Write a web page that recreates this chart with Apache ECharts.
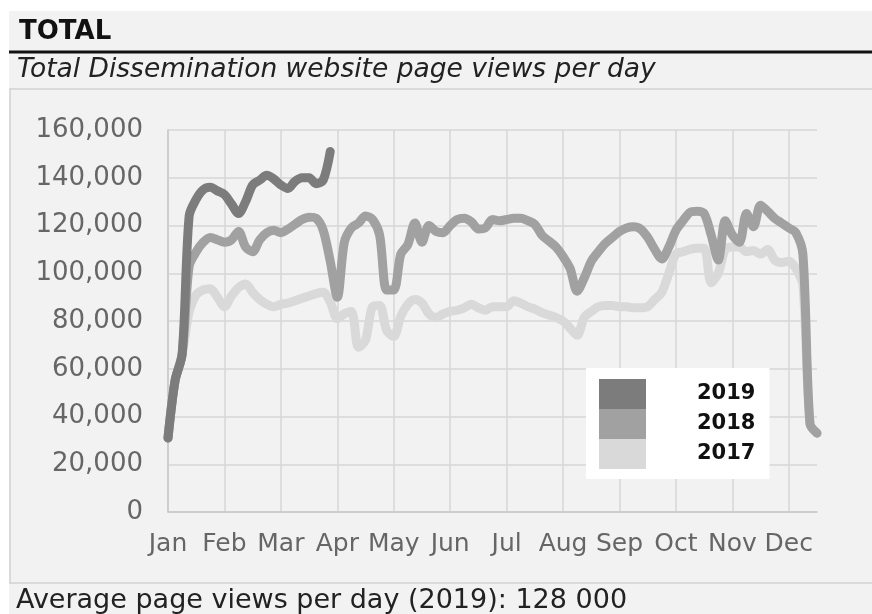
<!DOCTYPE html>
<html>
<head>
<meta charset="utf-8">
<script src="https://cdn.jsdelivr.net/npm/echarts@6/dist/echarts.min.js"></script>
<style>
html,body{margin:0;padding:0;background:#ffffff;}
#chart{width:872px;height:614px;}
</style>
</head>
<body>
<div id="chart"></div>
<script>
// ---- data (8 samples per month, starting 1 Jan) ----
const months = ['Jan','Feb','Mar','Apr','May','Jun','Jul','Aug','Sep','Oct','Nov','Dec'];
const samplesPerMonth = 8;
const yTicks = [0, 20000, 40000, 60000, 80000, 100000, 120000, 140000, 160000];

const views2019 = [31000,55000,66000,124000,131000,135000,136000,134500,133000,129000,
  125000,130000,137000,139000,141000,139500,137000,135500,138500,140000,
  140000,137500,139000,151000];

const views2018 = [31000,55000,66000,103000,109000,113000,115000,114000,113000,114000,
  117500,111000,109000,114000,117000,118000,117000,118500,120500,122500,
  123500,123000,118000,105000,90000,113000,119000,121000,124000,122500,
  116000,93000,93000,108000,112000,121000,113000,120000,117500,117000,
  120000,122500,123000,121500,118500,119000,122500,122000,122500,123000,
  123000,122000,120500,116000,113500,111000,107000,102000,92500,98000,
  105000,109000,112500,115000,117500,119000,119500,118500,115000,110000,
  106000,111000,118000,122000,125500,126000,125000,116000,105500,122000,
  116000,113000,125000,119500,128500,126000,123000,121000,119000,117000,
  108000,37000,33000];

const views2017 = [31000,55000,66000,84000,91000,93000,93500,90000,86000,90500,
  94000,95500,92000,89000,87000,86000,87000,87500,88500,89500,
  90500,91500,92000,88000,81000,83000,84000,69000,72000,86000,
  86500,76000,73500,82000,87000,89000,87500,83000,81500,83000,
  84000,84500,85500,87000,85500,84500,86000,86000,86000,88500,
  87500,86000,85000,83500,82500,81500,80000,77000,74000,81500,
  84000,86000,86500,86500,86000,86000,85500,85500,86000,89000,
  92000,100000,108000,109000,110000,110500,110500,96000,100000,110000,
  111000,111000,109000,109500,108000,110000,105500,104500,105000,102000,
  95000,37000,33000];

const seriesNames = ['2017','2018','2019'];
const seriesColors = ['#d9d9d9','#a1a1a1','#7c7c7c'];

const titleText = 'TOTAL';
const subtitleText = 'Total Dissemination website page views per day';
const footerText = 'Average page views per day (2019): 128 000';

// ---- build ----
const nPoints = views2018.length;
const categories = [];
for (let i = 0; i < nPoints; i++) categories.push(String(i));
const isMonthStart = (i) => i % samplesPerMonth === 0;

const chart = echarts.init(document.getElementById('chart'), null, {renderer: 'canvas'});
const FONT = "'DejaVu Sans', Verdana, sans-serif";

const seriesData = [views2017, views2018, views2019];
const option = {
  backgroundColor: '#ffffff',
  animation: false,
  textStyle: {fontFamily: FONT},
  graphic: [
    {type: 'rect', z: -10, shape: {x: 9, y: 11, width: 863, height: 603}, style: {fill: '#f2f2f2'}},
    {type: 'rect', z: -9, shape: {x: 10, y: 89, width: 870, height: 494}, style: {fill: '#f2f2f2', stroke: '#d2d2d2', lineWidth: 1.5}},
    {type: 'line', z: -8, shape: {x1: 9, y1: 52, x2: 872, y2: 52}, style: {stroke: '#111111', lineWidth: 3}}
  ],
  title: [
    {text: titleText, left: 19, top: 19, padding: 0,
     textStyle: {fontFamily: FONT, fontSize: 26, fontWeight: 'bold', color: '#111111'}},
    {text: subtitleText, left: 17, top: 57, padding: 0,
     textStyle: {fontFamily: FONT, fontSize: 26.5, fontStyle: 'italic', fontWeight: 'normal', color: '#222222'}},
    {text: footerText, left: 16, top: 587, padding: 0,
     textStyle: {fontFamily: FONT, fontSize: 27, fontWeight: 'normal', color: '#222222'}}
  ],
  legend: {
    orient: 'vertical',
    left: 586, top: 368,
    backgroundColor: '#ffffff',
    padding: [11, 14, 10, 13],
    itemGap: 0,
    itemWidth: 47, itemHeight: 30,
    icon: 'rect',
    itemStyle: {borderWidth: 0},
    selectedMode: false,
    data: ['2019', '2018', '2017'],
    textStyle: {fontFamily: FONT, fontSize: 21, fontWeight: 'bold', color: '#111111', padding: [0, 0, 0, 46]}
  },
  grid: {left: 168, right: 55, top: 130, bottom: 102, containLabel: false},
  xAxis: {
    type: 'category',
    data: categories,
    boundaryGap: false,
    axisLine: {show: true, lineStyle: {color: '#c8c8c8', width: 1.5}},
    axisTick: {show: false},
    axisLabel: {
      interval: (i) => isMonthStart(i),
      formatter: (v, i) => isMonthStart(i) ? months[i / samplesPerMonth] : '',
      color: '#666666', fontSize: 25, fontFamily: FONT, margin: 20
    },
    splitLine: {show: true, interval: (i) => isMonthStart(i), lineStyle: {color: '#d6d6d6', width: 1.5}}
  },
  yAxis: {
    type: 'value',
    min: yTicks[0], max: yTicks[yTicks.length - 1], interval: yTicks[1] - yTicks[0],
    axisLine: {show: true, lineStyle: {color: '#c8c8c8', width: 1.5}},
    axisTick: {show: false},
    axisLabel: {
      formatter: (v) => v.toLocaleString('en-US'),
      color: '#666666', fontSize: 26, fontFamily: FONT, margin: 25
    },
    splitLine: {show: true, lineStyle: {color: '#d6d6d6', width: 1.5}}
  },
  series: seriesNames.map((name, k) => ({
    name: name,
    type: 'line',
    data: seriesData[k],
    color: seriesColors[k],
    showSymbol: false,
    symbol: 'none',
    smooth: 0.3,
    lineStyle: {width: 9, color: seriesColors[k], join: 'round', cap: 'round'},
    z: 2 + k
  }))
};
chart.setOption(option);
</script>
</body>
</html>
